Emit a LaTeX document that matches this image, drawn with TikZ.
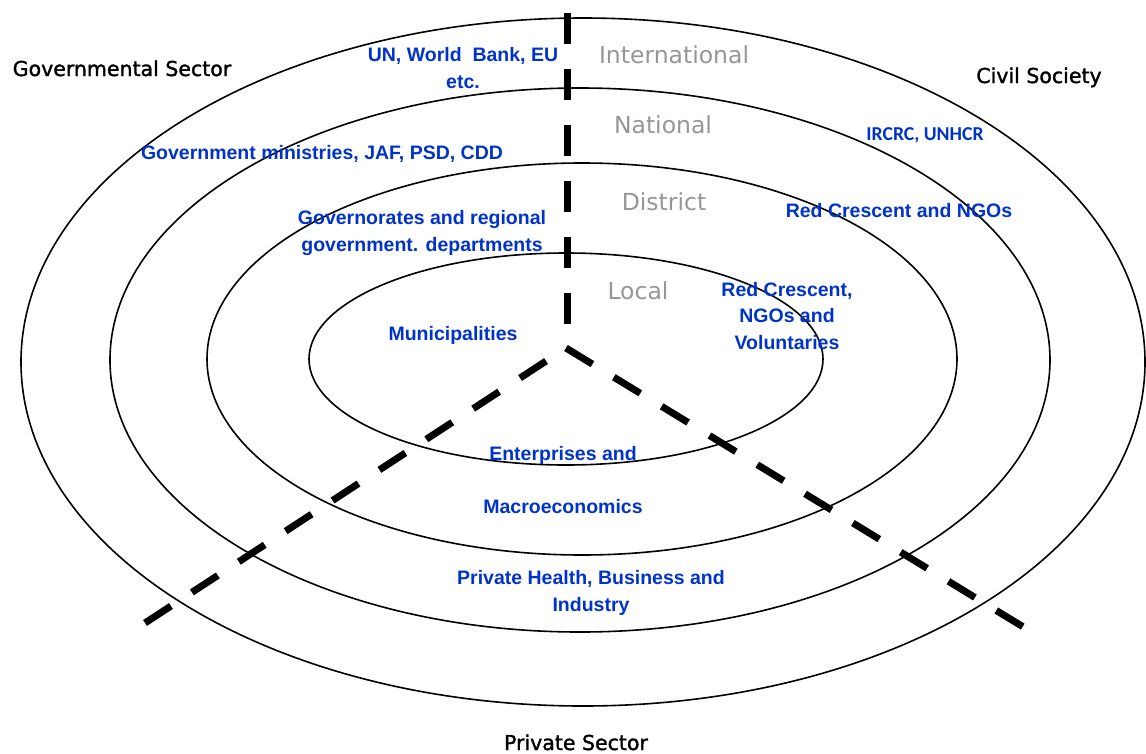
\documentclass[tikz,border=0pt]{standalone}
\usepackage{fontspec}
\setmainfont{DejaVu Sans}
\newfontfamily\arialfont{Liberation Sans}
\newfontfamily\calfont{Carlito}
\newfontfamily\sectorfont{DejaVu Sans}[FakeBold=1.5]

\definecolor{actorblue}{RGB}{0,51,204}
\definecolor{levelgray}{RGB}{150,150,150}

\tikzset{
    ring/.style={draw, line width=1.6pt},
    divider/.style={line width=7pt, dash pattern=on 31pt off 25pt},
    sector/.style={font=\sectorfont\fontsize{20.5}{24}\selectfont, anchor=base, inner sep=0pt},
    level/.style={font=\fontsize{23.5}{28}\selectfont, text=levelgray, anchor=base, inner sep=0pt},
    actor/.style={font=\arialfont\bfseries\fontsize{19.5}{26.5}\selectfont, text=actorblue, align=center, anchor=base, inner sep=0pt},
    agency/.style={font=\calfont\bfseries\fontsize{19.7}{24}\selectfont, text=actorblue, anchor=base, inner sep=0pt}
}

\begin{document}
\begin{tikzpicture}[x=1pt, y=-1pt]
    \useasboundingbox (0, 0) rectangle (1146, 753);

    % the four rings
    \draw [ring] (583, 362) ellipse [x radius=562, y radius=344];
    \draw [ring] (580, 360) ellipse [x radius=470, y radius=272];
    \draw [ring] (582, 359) ellipse [x radius=375, y radius=196];
    \draw [ring] (566, 359) ellipse [x radius=257, y radius=106];

    % sector dividers
    \coordinate (hub) at (566, 348);
    \coordinate (north) at (567, 13);
    \coordinate (northend) at (567, 325);
    \coordinate (southwest) at (145, 623);
    \coordinate (southeast) at (1025, 628);
    \draw [divider] (north) -- (northend);
    \draw [divider] (southwest) -- (hub);
    \draw [divider] (hub) -- (southeast);

    % sectors
    \path (122, 76) node [sector] (gov) {Governmental Sector};
    \path (1039, 83) node [sector] (civ) {Civil Society};
    \path (576, 750) node [sector] (prv) {Private Sector};

    % levels
    \path (674, 63) node [level] (intl) {International};
    \path (663, 133) node [level] (natl) {National};
    \path (664, 210) node [level] (dist) {District};
    \path (638, 299) node [level] (locl) {Local};

    % governmental actors (base = last line)
    \path (463, 88) node [actor] (un) {UN, World\ \ Bank, EU\\etc.};
    \path (322, 159) node [actor] (mins) {Government ministries, JAF, PSD, CDD};
    \path (422, 251) node [actor] (govs) {Governorates and regional\\government. departments};
    \path (453, 340) node [actor] (muni) {Municipalities};

    % civil actors
    \path (925, 140) node [agency] (ircrc) {IRCRC, UNHCR};
    \path (899, 217) node [actor] (rcngo) {Red Crescent and NGOs};
    \path (787, 349) node [actor] (rcvol) {Red Crescent,\\NGOs and\\Voluntaries};

    % private actors
    \path (563, 460) node [actor] (ent) {Enterprises and};
    \path (563, 513) node [actor] (macro) {Macroeconomics};
    \path (591, 611) node [actor] (phbi) {Private Health, Business and\\Industry};
\end{tikzpicture}
\end{document}
